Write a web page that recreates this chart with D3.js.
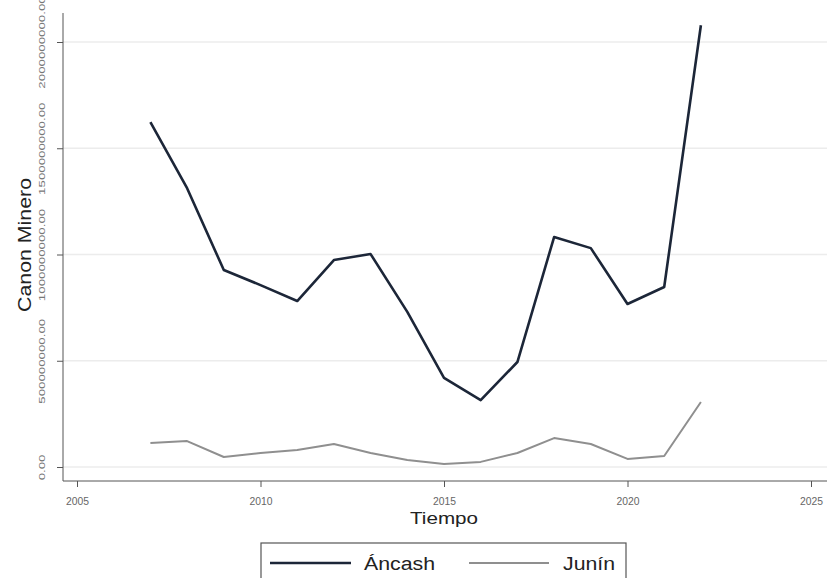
<!DOCTYPE html>
<html><head><meta charset="utf-8">
<script src="https://cdn.jsdelivr.net/npm/d3@7"></script>
<style>body{margin:0;background:#fff}svg{display:block;font-family:"Liberation Sans",Arial,sans-serif}</style>
</head><body><svg id="c" width="827" height="578"></svg>
<script>
const years = [2007,2008,2009,2010,2011,2012,2013,2014,2015,2016,2017,2018,2019,2020,2021,2022];
const ancash = [1.623e9,1.312e9,0.927e9,0.856e9,0.781e9,0.974e9,1.002e9,0.73e9,0.419e9,0.315e9,0.494e9,1.082e9,1.03e9,0.767e9,0.847e9,2.079e9];
const junin = [0.113e9,0.122e9,0.047e9,0.066e9,0.080e9,0.108e9,0.066e9,0.033e9,0.014e9,0.024e9,0.066e9,0.136e9,0.108e9,0.038e9,0.052e9,0.306e9];
const xTicks = [2005,2010,2015,2020,2025];
const yTicks = [0,500000000,1000000000,1500000000,2000000000];
const yTickLabels = ["0.00","500000000.00","1000000000.00","1500000000.00","2000000000.00"];
const seriesNames = ["Áncash","Junín"];
const seriesColors = ["#1c2638","#8f8f8f"];

const svg = d3.select("#c");
const x = d3.scaleLinear().domain([2005,2025]).range([77,811]);
const y = d3.scaleLinear().domain([0,2000000000]).range([467,42]);
const pLeft = 63, pTop = 13, pBottom = 481, pRight = 827;

// approximate widths of stretched text in the reference
const strLen = s => Array.from(s).reduce((a,c)=>a+(c==="."?3.5:7.4),0);

// gridlines
svg.append("g").selectAll("line").data(yTicks).join("line")
  .attr("x1",pLeft).attr("x2",pRight).attr("y1",d=>y(d)).attr("y2",d=>y(d))
  .attr("stroke","#ececec").attr("stroke-width",1.5);

// axes
const xa = svg.append("g").attr("transform",`translate(0,${pBottom})`)
  .call(d3.axisBottom(x).tickValues(xTicks).tickFormat(d3.format("d")).tickSize(6).tickPadding(4));
xa.select(".domain").attr("d",`M${pLeft},0H${pRight}`).attr("stroke","#555");
xa.selectAll(".tick line").attr("stroke","#555");
xa.selectAll("text").attr("fill","#666").attr("font-size",10.5)
  .attr("y",17).attr("textLength",23).attr("lengthAdjust","spacingAndGlyphs");

const ya = svg.append("g").attr("transform",`translate(${pLeft},0)`)
  .call(d3.axisLeft(y).tickValues(yTicks).tickFormat((d,i)=>yTickLabels[i]).tickSize(6).tickPadding(4));
ya.select(".domain").attr("d",`M0,${pTop}V${pBottom}`).attr("stroke","#555");
ya.selectAll(".tick line").attr("stroke","#555");
ya.selectAll("text").attr("fill","#777").attr("font-size",9.5)
  .attr("text-anchor","middle").attr("transform","rotate(-90)")
  .attr("x",0).attr("dy","0").attr("y",-18)
  .attr("textLength",(d,i)=>strLen(yTickLabels[i])).attr("lengthAdjust","spacingAndGlyphs");

// lines
const line = d3.line().x((d,i)=>x(years[i])).y(d=>y(d));
svg.append("path").datum(junin).attr("d",line).attr("fill","none")
  .attr("stroke",seriesColors[1]).attr("stroke-width",2).attr("stroke-linejoin","round");
svg.append("path").datum(ancash).attr("d",line).attr("fill","none")
  .attr("stroke",seriesColors[0]).attr("stroke-width",2.6).attr("stroke-linejoin","round");

// titles
svg.append("text").attr("x",444).attr("y",524).attr("text-anchor","middle")
  .attr("font-size",17).attr("fill","#222").attr("textLength",68).attr("lengthAdjust","spacingAndGlyphs").text("Tiempo");
svg.append("text").attr("transform","translate(31,245) rotate(-90)").attr("text-anchor","middle")
  .attr("font-size",17.5).attr("fill","#222").attr("textLength",134).attr("lengthAdjust","spacingAndGlyphs").text("Canon Minero");

// legend
svg.append("rect").attr("x",261).attr("y",543).attr("width",365).attr("height",50)
  .attr("fill","#fff").attr("stroke","#555").attr("stroke-width",1.2);
const lg = [{x1:270,x2:351,tx:364,w:71},{x1:469,x2:549,tx:563,w:52}];
lg.forEach((l,i)=>{
  svg.append("line").attr("x1",l.x1).attr("x2",l.x2).attr("y1",563).attr("y2",563)
    .attr("stroke",seriesColors[i]).attr("stroke-width",i===0?2.6:2);
  svg.append("text").attr("x",l.tx).attr("y",570).attr("font-size",18).attr("fill","#222")
    .attr("textLength",l.w).attr("lengthAdjust","spacingAndGlyphs").text(seriesNames[i]);
});
</script></body></html>
